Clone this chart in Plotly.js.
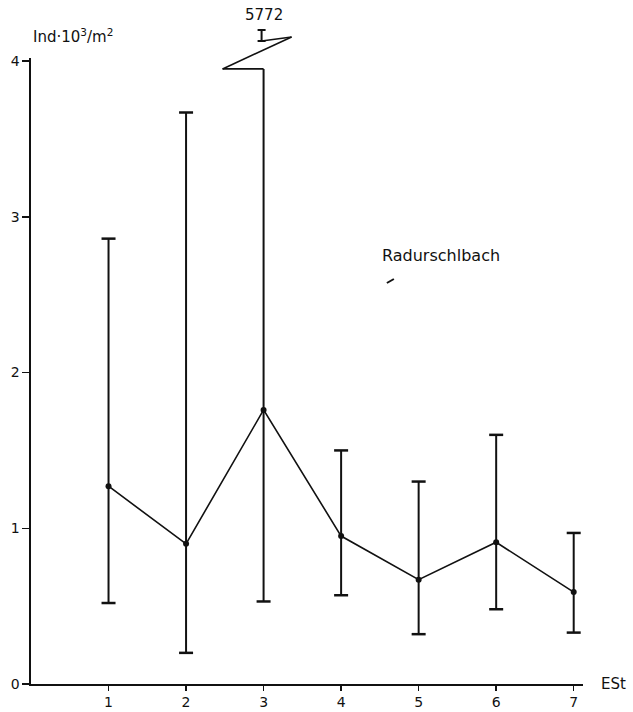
<!DOCTYPE html>
<html>
<head>
<meta charset="utf-8">
<script src="https://cdn.plot.ly/plotly-3.0.1.min.js"></script>
<style>html,body{margin:0;padding:0;background:#fff;}#chart{width:633px;height:712px;}</style>
</head>
<body>
<div id="chart"></div>
<script>
// Sampling stations (ESt) and densities (Ind·10^3/m^2)
const stations = [1, 2, 3, 4, 5, 6, 7];
const meanValues = [1.27, 0.90, 1.76, 0.95, 0.67, 0.91, 0.59];
const upperValues = [2.86, 3.67, 5.772, 1.50, 1.30, 1.60, 0.97];
const lowerValues = [0.52, 0.20, 0.53, 0.57, 0.32, 0.48, 0.33];
const yTickValues = [0, 1, 2, 3, 4];
const stationLabel = 'Radurschlbach';
const outlierLabel = '5772';

const W = 633, H = 712;
const M = {l: 31, r: 50, t: 58, b: 28};
const xRange = [0, 7.12];
const yRange = [0, 4.02];
const plotW = W - M.l - M.r, plotH = H - M.t - M.b;
const breakValue = 3.95; // where the broken whisker leaves the scale

// helpers: data x -> paper, pixel offsets -> paper
const xp = (x, dpx) => (x - xRange[0]) / (xRange[1] - xRange[0]) + (dpx || 0) / plotW;
const ypPix = (pixY) => (H - M.b - pixY) / plotH; // absolute page pixel y -> paper

// whisker segments built from data
const wx = [], wy = [], capX = [], capY = [];
let brokenIdx = -1;
stations.forEach((s, i) => {
  const top = upperValues[i] > yRange[1] ? breakValue : upperValues[i];
  if (upperValues[i] > yRange[1]) brokenIdx = i;
  wx.push(s, s, null);
  wy.push(lowerValues[i], top, null);
  capX.push(s); capY.push(lowerValues[i]);
  if (upperValues[i] <= yRange[1]) { capX.push(s); capY.push(upperValues[i]); }
});

const traces = [
  {x: wx, y: wy, mode: 'lines', line: {color: '#111', width: 2}, hoverinfo: 'skip', showlegend: false},
  {x: capX, y: capY, mode: 'markers', marker: {symbol: 'line-ew', size: 10, line: {color: '#111', width: 2.5}}, hoverinfo: 'skip', showlegend: false},
  {x: stations, y: meanValues, mode: 'lines+markers', line: {color: '#111', width: 1.6}, marker: {color: '#111', size: 6}, showlegend: false}
];

const shapes = [];
const annotations = [];
if (brokenIdx >= 0) {
  const s = stations[brokenIdx];
  const yb = breakValue / yRange[1];
  const pts = [[0, yb], [-41, yb], [28, ypPix(37)], [-2, ypPix(41)]];
  for (let k = 0; k < pts.length - 1; k++) {
    shapes.push({type: 'line', xref: 'paper', yref: 'paper',
      x0: xp(s, pts[k][0]), y0: pts[k][1], x1: xp(s, pts[k + 1][0]), y1: pts[k + 1][1],
      line: {color: '#111', width: 1.6}});
  }
  // small capped bar for the off-scale maximum
  shapes.push({type: 'line', xref: 'paper', yref: 'paper', x0: xp(s, -2), x1: xp(s, -2), y0: ypPix(30), y1: ypPix(41), line: {color: '#111', width: 2}});
  shapes.push({type: 'line', xref: 'paper', yref: 'paper', x0: xp(s, -6), x1: xp(s, 2), y0: ypPix(30), y1: ypPix(30), line: {color: '#111', width: 2}});
  shapes.push({type: 'line', xref: 'paper', yref: 'paper', x0: xp(s, -6), x1: xp(s, 2), y0: ypPix(41), y1: ypPix(41), line: {color: '#111', width: 2}});
  annotations.push({text: outlierLabel, xref: 'paper', yref: 'paper', x: xp(s, 0), y: ypPix(15), xanchor: 'center', yanchor: 'middle', showarrow: false, font: {size: 15, color: '#111'}});
}
// stray mark under the label
shapes.push({type: 'line', xref: 'paper', yref: 'paper', x0: xp(4.5, 7), y0: ypPix(283), x1: xp(4.5, 14), y1: ypPix(279), line: {color: '#111', width: 2}});

annotations.push({text: 'Ind·10<sup>3</sup>/m<sup>2</sup>', xref: 'paper', yref: 'paper', x: 0, y: ypPix(48), xanchor: 'left', yanchor: 'bottom', showarrow: false, font: {size: 15, color: '#111'}});
annotations.push({text: stationLabel, xref: 'paper', yref: 'paper', x: xp(4.5, 0), y: ypPix(255), xanchor: 'left', yanchor: 'middle', showarrow: false, font: {size: 16, color: '#111'}});
annotations.push({text: 'ESt', xref: 'paper', yref: 'paper', x: 1, y: 0, xshift: 16, xanchor: 'left', yanchor: 'middle', showarrow: false, font: {size: 15, color: '#111'}});

const layout = {
  width: W, height: H,
  margin: M,
  paper_bgcolor: '#fff', plot_bgcolor: '#fff',
  font: {family: 'DejaVu Sans, sans-serif', color: '#111', size: 14},
  xaxis: {range: xRange, tickvals: stations, ticks: 'outside', ticklen: 5, tickwidth: 1.5, tickcolor: '#111',
    showline: true, linecolor: '#111', linewidth: 1.6, showgrid: false, zeroline: false, tickfont: {size: 14}},
  yaxis: {range: yRange, tickvals: yTickValues, ticks: 'outside', ticklen: 7, tickwidth: 1.5, tickcolor: '#111',
    showline: true, linecolor: '#111', linewidth: 1.6, showgrid: false, zeroline: false, tickfont: {size: 14}},
  shapes: shapes,
  annotations: annotations
};

Plotly.newPlot('chart', traces, layout, {displayModeBar: false, staticPlot: true});
</script>
</body>
</html>
